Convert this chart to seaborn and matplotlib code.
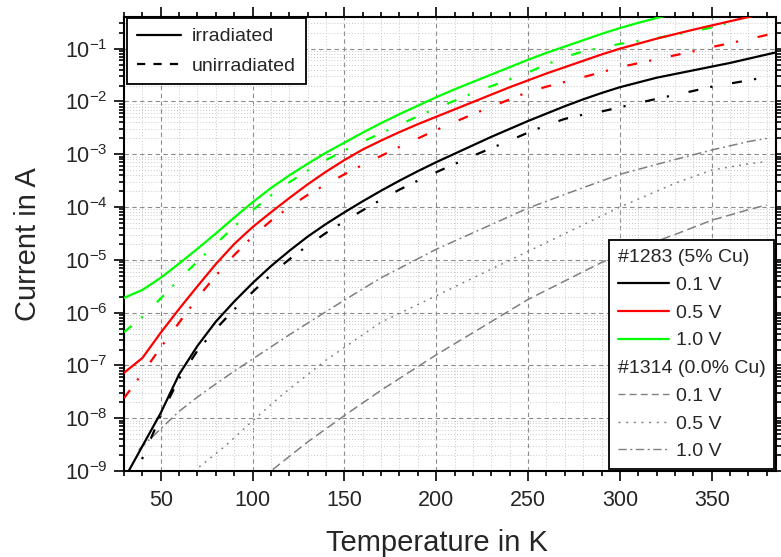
import numpy as np
import pandas as pd
import matplotlib
matplotlib.use("Agg")
import matplotlib.pyplot as plt
import seaborn as sns
from matplotlib.lines import Line2D
from matplotlib.ticker import LogLocator, MultipleLocator, NullFormatter, FixedLocator

# ---------------- data (log10 of current in A) ----------------
T_irr_01 = [30, 40, 50, 60, 70, 80, 90, 100, 110, 120, 130, 140, 150, 160, 170, 180, 190, 200,
            210, 220, 230, 240, 250, 260, 270, 280, 290, 300, 320, 340, 350, 360, 370, 380, 385]
L_irr_01 = [-9.16, -8.53, -7.90, -7.17, -6.63, -6.17, -5.79, -5.44, -5.12, -4.83, -4.56, -4.32, -4.10,
            -3.89, -3.69, -3.50, -3.32, -3.15, -2.99, -2.83, -2.67, -2.52, -2.37, -2.23, -2.09, -1.96,
            -1.84, -1.73, -1.55, -1.41, -1.34, -1.27, -1.19, -1.11, -1.07]

T_un_01 = [35, 40, 50, 60, 70, 80, 90, 100, 110, 120, 130, 140, 150, 160, 170, 180, 190, 200,
           220, 240, 250, 260, 270, 280, 290, 300, 320, 340, 350, 370, 385]
L_un_01 = [-9.16, -8.76, -7.95, -7.25, -6.72, -6.31, -5.94, -5.61, -5.28, -4.99, -4.73, -4.49, -4.27,
           -4.06, -3.86, -3.67, -3.50, -3.34, -3.03, -2.74, -2.59, -2.45, -2.33, -2.25, -2.19, -2.11,
           -1.95, -1.80, -1.72, -1.60, -1.50]

T_irr_05 = [30, 40, 50, 60, 70, 80, 90, 100, 110, 120, 130, 140, 150, 160, 170, 180, 190, 200,
            210, 220, 230, 240, 250, 260, 270, 280, 290, 300, 320, 340, 350, 360, 370, 380]
L_irr_05 = [-7.14, -6.86, -6.38, -5.93, -5.50, -5.08, -4.70, -4.38, -4.10, -3.83, -3.57, -3.33, -3.11,
            -2.91, -2.74, -2.58, -2.43, -2.29, -2.15, -2.01, -1.87, -1.73, -1.60, -1.47, -1.35, -1.23,
            -1.11, -1.00, -0.81, -0.64, -0.56, -0.48, -0.40, -0.32]

T_un_05 = [30, 40, 50, 60, 70, 80, 90, 100, 110, 120, 130, 140, 150, 160, 170, 180, 190, 200,
           220, 240, 250, 260, 270, 280, 300, 320, 340, 350, 370, 385]
L_un_05 = [-7.62, -7.15, -6.66, -6.19, -5.72, -5.30, -4.91, -4.56, -4.26, -4.00, -3.77, -3.57, -3.38,
           -3.20, -3.03, -2.86, -2.70, -2.54, -2.24, -1.96, -1.82, -1.72, -1.63, -1.54, -1.35, -1.20,
           -1.05, -0.97, -0.82, -0.70]

T_irr_10 = [30, 40, 50, 60, 70, 80, 90, 100, 110, 120, 130, 140, 150, 160, 170, 180, 190, 200,
            210, 220, 230, 240, 250, 260, 270, 280, 290, 300, 310, 320, 330]
L_irr_10 = [-5.72, -5.57, -5.34, -5.07, -4.79, -4.50, -4.20, -3.91, -3.64, -3.40, -3.18, -2.97, -2.78,
            -2.59, -2.41, -2.24, -2.08, -1.92, -1.77, -1.63, -1.49, -1.35, -1.21, -1.08, -0.96, -0.84,
            -0.72, -0.61, -0.51, -0.42, -0.33]

T_un_10 = [30, 40, 50, 60, 70, 80, 90, 100, 110, 120, 130, 140, 150, 160, 170, 180, 190, 200,
           220, 240, 250, 260, 270, 280, 300, 320, 340, 350, 360, 370]
L_un_10 = [-6.37, -6.08, -5.73, -5.37, -5.03, -4.70, -4.37, -4.06, -3.78, -3.53, -3.31, -3.11, -2.93,
           -2.76, -2.60, -2.44, -2.28, -2.13, -1.84, -1.58, -1.45, -1.30, -1.16, -1.05, -0.91, -0.80,
           -0.67, -0.60, -0.50, -0.38]

# sample #1314 (0.0% Cu)
T_ref_01 = [105, 110, 130, 150, 170, 200, 250, 290, 300, 330, 350, 370, 380]
L_ref_01 = [-9.13, -9.00, -8.45, -7.95, -7.47, -6.80, -5.75, -5.05, -4.90, -4.52, -4.25, -4.05, -3.96]

T_ref_05 = [65, 70, 85, 100, 117, 140, 170, 200, 250, 300, 330, 350, 370, 380]
L_ref_05 = [-9.10, -8.95, -8.53, -8.05, -7.53, -6.90, -6.18, -5.68, -4.84, -4.00, -3.55, -3.30, -3.18, -3.14]

T_ref_10 = [38, 50, 60, 70, 80, 90, 100, 120, 140, 160, 170, 200, 250, 270, 300, 330, 350, 370, 380]
L_ref_10 = [-8.60, -8.20, -7.87, -7.60, -7.35, -7.11, -6.88, -6.42, -5.98, -5.55, -5.34, -4.80, -4.02,
            -3.76, -3.38, -3.10, -2.92, -2.76, -2.70]

legend1_labels = ["irradiated", "unirradiated"]
legend2_labels = ["#1283 (5% Cu)", "0.1 V", "0.5 V", "1.0 V", "#1314 (0.0% Cu)", "0.1 V", "0.5 V", "1.0 V"]
x_ticks = [50, 100, 150, 200, 250, 300, 350]

# ---------------- style ----------------
sns.set_theme(style="white")
plt.rcParams["font.family"] = ["Liberation Sans", "DejaVu Sans"]
plt.rcParams["mathtext.fontset"] = "custom"
plt.rcParams["mathtext.rm"] = "Liberation Sans"
plt.rcParams["mathtext.it"] = "Liberation Sans:italic"

BLACK, RED, GREEN, GRAY = "#000000", "#ff0000", "#00ff00", "#808080"
DASH_UN = (0, (4.5, 5.5, 1.0, 9.0))
LS_G_DASH = (0, (6, 3))
LS_G_DOT = (0, (1.2, 3.5))
LS_G_DD = (0, (6, 2.5, 1.2, 2.5))

fig = plt.figure(figsize=(7.81, 5.57), dpi=100)
ax = fig.add_axes([124 / 781, 1 - 471 / 557, 652 / 781, 454 / 557])

def draw(T, L, color, ls, lw, z=3):
    df = pd.DataFrame({"T": T, "I": 10 ** np.asarray(L, dtype=float)})
    sns.lineplot(data=df, x="T", y="I", ax=ax, color=color, linestyle=ls, lw=lw,
                 estimator=None, sort=False, legend=False, zorder=z)

draw(T_ref_01, L_ref_01, GRAY, LS_G_DASH, 1.1, 2)
draw(T_ref_05, L_ref_05, GRAY, LS_G_DOT, 1.1, 2)
draw(T_ref_10, L_ref_10, GRAY, LS_G_DD, 1.1, 2)
draw(T_un_01, L_un_01, BLACK, DASH_UN, 1.6)
draw(T_un_05, L_un_05, RED, DASH_UN, 1.6)
draw(T_un_10, L_un_10, GREEN, DASH_UN, 1.6)
draw(T_irr_01, L_irr_01, BLACK, "-", 1.6)
draw(T_irr_05, L_irr_05, RED, "-", 1.6)
draw(T_irr_10, L_irr_10, GREEN, "-", 1.6)

ax.set_yscale("log")
ax.set_xlim(30, 385)
ax.set_ylim(1e-9, 10 ** -0.4)

ax.xaxis.set_major_locator(FixedLocator(x_ticks))
ax.xaxis.set_minor_locator(MultipleLocator(10))
ax.yaxis.set_major_locator(LogLocator(base=10, numticks=20))
ax.yaxis.set_minor_locator(LogLocator(base=10, subs=np.arange(2, 10), numticks=20))
ax.yaxis.set_minor_formatter(NullFormatter())

ax.grid(True, which="major", color="#8c8c8c", linestyle=(0, (4, 3)), lw=0.8, zorder=0)
ax.grid(True, which="minor", color="#c8c8c8", linestyle=(0, (1, 2)), lw=0.7, zorder=0)
ax.set_axisbelow(True)

for s in ax.spines.values():
    s.set_linewidth(1.5)
    s.set_color("black")
    s.set_visible(True)

ax.tick_params(which="both", direction="out", top=True, right=True, bottom=True, left=True,
               color="black", width=1.2)
ax.tick_params(which="major", length=7.5, labelsize=15.5, pad=4)
ax.tick_params(axis="x", which="major", pad=6)
ax.tick_params(which="minor", length=3.8)

ax.set_xlabel("Temperature in K", fontsize=21)
ax.set_ylabel("Current in A", fontsize=21)
ax.xaxis.set_label_coords(0.48, -0.128)
ax.yaxis.set_label_coords(-0.125, 0.5)

# ---------------- legends ----------------
h1 = [Line2D([], [], color=BLACK, lw=1.6, ls="-"),
      Line2D([], [], color=BLACK, lw=1.6, ls=(0, (3.7, 3.7)))]
leg1 = ax.legend(h1, legend1_labels, loc="upper left", bbox_to_anchor=(3 / 652, 1 - 1 / 454),
                 borderaxespad=0, fontsize=14, handlelength=2.3, handletextpad=0.55,
                 labelspacing=0.6, borderpad=0.5, fancybox=False, framealpha=1,
                 edgecolor="black")
leg1.get_frame().set_linewidth(1.3)
ax.add_artist(leg1)

blank = Line2D([], [], linestyle="none")
h2 = [blank,
      Line2D([], [], color=BLACK, lw=1.6, ls="-"),
      Line2D([], [], color=RED, lw=1.6, ls="-"),
      Line2D([], [], color=GREEN, lw=1.6, ls="-"),
      blank,
      Line2D([], [], color=GRAY, lw=1.0, ls=(0, (5, 3))),
      Line2D([], [], color=GRAY, lw=1.0, ls=(0, (1.5, 4))),
      Line2D([], [], color=GRAY, lw=1.0, ls=(0, (6, 2.5, 1.5, 2.5)))]
leg2 = ax.legend(h2, legend2_labels, loc="lower right", bbox_to_anchor=(650 / 652, 2 / 454),
                 borderaxespad=0, fontsize=14, handlelength=2.67, handletextpad=0.34,
                 labelspacing=0.52, borderpad=0.45, fancybox=False, framealpha=1,
                 edgecolor="black")
leg2.get_frame().set_linewidth(1.3)

# header rows: no handle space
for col in leg2._legend_handle_box.get_children():
    for i, item in enumerate(col.get_children()):
        if legend2_labels[i].startswith("#"):
            item.sep = 0
            item.get_children()[0].width = 0

fig.savefig("out.png", dpi=100)
